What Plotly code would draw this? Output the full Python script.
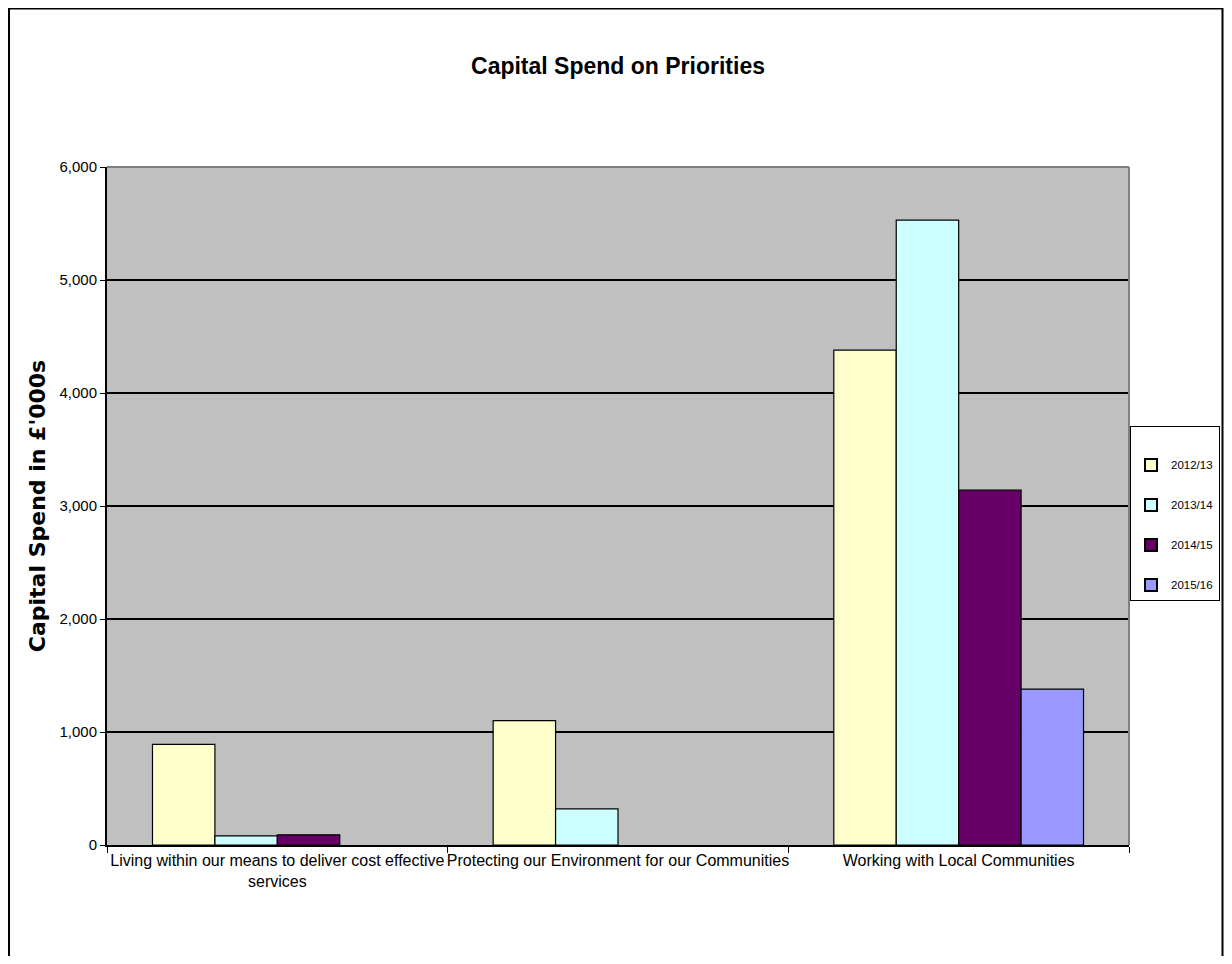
import plotly.graph_objects as go

categories = [
    "Living within our means to deliver cost effective<br>services",
    "Protecting our Environment for our Communities",
    "Working with Local Communities",
]
series_names = ["2012/13", "2013/14", "2014/15", "2015/16"]
values_2012 = [890, 1100, 4380]
values_2013 = [80, 320, 5530]
values_2014 = [90, None, 3140]
values_2015 = [None, None, 1380]
series_values = [values_2012, values_2013, values_2014, values_2015]
series_colors = ["#FFFFCC", "#CCFFFF", "#660066", "#9999FF"]
y_ticks = [0, 1000, 2000, 3000, 4000, 5000, 6000]
y_ticktext = ["0", "1,000", "2,000", "3,000", "4,000", "5,000", "6,000"]

FONT = "Liberation Sans Narrow, Arial Narrow, Liberation Sans, Arial, sans-serif"

W, H = 1216, 948
L, R, T, B = 99, 95, 159, 111
PW, PH = W - L - R, H - T - B

fig = go.Figure()
for name, vals, col in zip(series_names, series_values, series_colors):
    fig.add_trace(go.Bar(
        name=name, x=categories, y=vals,
        marker=dict(color=col, line=dict(color="black", width=1.2)),
        legendgroup=name,
    ))

fig.update_layout(
    width=W, height=H,
    margin=dict(l=L, r=R, t=T, b=B, autoexpand=False),
    paper_bgcolor="white",
    plot_bgcolor="#C0C0C0",
    barmode="group", bargap=0.267, bargroupgap=0,
    font=dict(family=FONT, size=16, color="black"),
    title=dict(text="<b>Capital Spend on Priorities</b>", x=0.5, xanchor="center",
               xref="paper", y=1 - 58 / H, yanchor="middle",
               font=dict(family=FONT, size=23, color="black")),
    legend=dict(x=(1212 - L) / PW, xanchor="right", y=(837 - 418) / PH, yanchor="top",
                bordercolor="black", borderwidth=1, bgcolor="white",
                font=dict(family=FONT, size=11.5), tracegroupgap=21,
                traceorder="grouped", itemsizing="constant",
                title=dict(text=" ", font=dict(size=18))),
    showlegend=True,
)
fig.update_xaxes(
    showline=True, linecolor="black", linewidth=2,
    ticks="outside", ticklen=6, tickcolor="black", tickson="boundaries",
    showgrid=False, tickangle=0, tickfont=dict(family=FONT, size=16),
)
fig.update_yaxes(
    range=[0, 6000], tickvals=y_ticks, ticktext=y_ticktext,
    showline=True, linecolor="black", linewidth=2,
    ticks="outside", ticklen=5, tickcolor="black",
    showgrid=True, gridcolor="black", gridwidth=2,
    zeroline=False, tickfont=dict(family=FONT, size=15),
    title=dict(text="<b>Capital Spend in £'000s</b>", standoff=8,
               font=dict(family="DejaVu Sans, Liberation Sans, Arial", size=22)),
)
# gray top/right border of the plot area
fig.add_shape(type="line", xref="paper", yref="paper", x0=0, x1=1, y0=1, y1=1,
              line=dict(color="#808080", width=2), layer="above")
fig.add_shape(type="line", xref="paper", yref="paper", x0=1, x1=1, y0=0, y1=1,
              line=dict(color="#808080", width=2), layer="above")
# outer chart border (bottom edge lies outside the visible window)
fig.add_shape(type="rect", xref="paper", yref="paper",
              x0=(1 - L) / PW, x1=(W - 1.5 - L) / PW,
              y0=-(B + 6) / PH, y1=1 + (T - 0.5) / PH,
              line=dict(color="black", width=2), layer="above")

fig.write_html("out.html")
